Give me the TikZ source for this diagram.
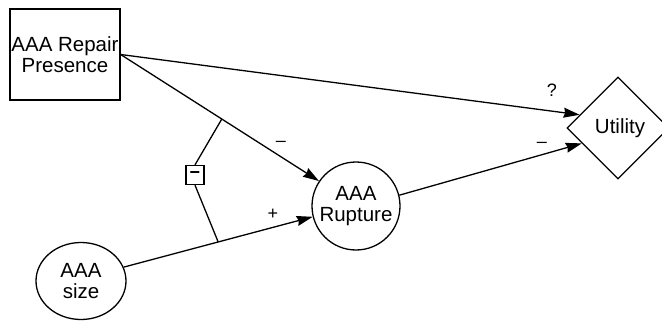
\documentclass[tikz,border=0pt]{standalone}
\usepackage{fontspec}
\setmainfont{Liberation Sans}
\usetikzlibrary{shapes.geometric,arrows.meta}
\begin{document}
\begin{tikzpicture}[x=1pt,y=-1pt,
  every node/.style={font=\fontsize{20.5}{21}\selectfont},
  line/.style={line width=1.3pt},
  arr/.style={line width=1.3pt,-{Stealth[length=16pt,width=10pt,inset=1.5pt]}},
  lab/.style={inner sep=0pt,font=\fontsize{18}{19}\selectfont},
  decbox/.style={draw,line width=1.3pt,rectangle,minimum width=110pt,minimum height=91pt,align=center,inner sep=0pt},
  chance/.style={draw,line width=1.3pt,circle,minimum size=88pt,align=center,inner sep=0pt},
  chanceell/.style={draw,line width=1.3pt,ellipse,minimum width=90pt,minimum height=77pt,align=center,inner sep=0pt},
  valnode/.style={draw,line width=1.3pt,diamond,aspect=1,minimum width=102pt,minimum height=102pt,inner sep=0pt},
  signbox/.style={draw,line width=1.3pt,rectangle,minimum width=18pt,minimum height=19pt,inner sep=0pt}
]
\useasboundingbox (0,0) rectangle (662,321);
\node[decbox] (rep) at (65,54.5) {AAA Repair\\Presence};
\node[chance] (rup) at (356,206) {AAA\\Rupture};
\node[chanceell] (size) at (81,281) {AAA\\size};
\node[valnode] (util) at (618,128) {\hspace{4pt}Utility};
\node[signbox] (sb) at (195,175) {\fontsize{18}{18}\selectfont\bfseries −};

\draw[arr] (rep.east) -- (util.161);
\draw[arr] (rep.east) -- coordinate[pos=0.51] (j1) (rup.146);
\draw[arr] (size.18) -- coordinate[pos=0.5] (j2) (rup.194);
\draw[arr] (rup.14) -- (util.203);
\draw[line] (j1) -- (sb.north);
\draw[line] (sb.south) -- (j2);

\node[lab] (l1) at (281,144) {–};
\node[lab] (l2) at (273,214) {+};
\node[lab] (l3) at (552,90) {?};
\node[lab] (l4) at (542,145) {–};
\end{tikzpicture}
\end{document}
